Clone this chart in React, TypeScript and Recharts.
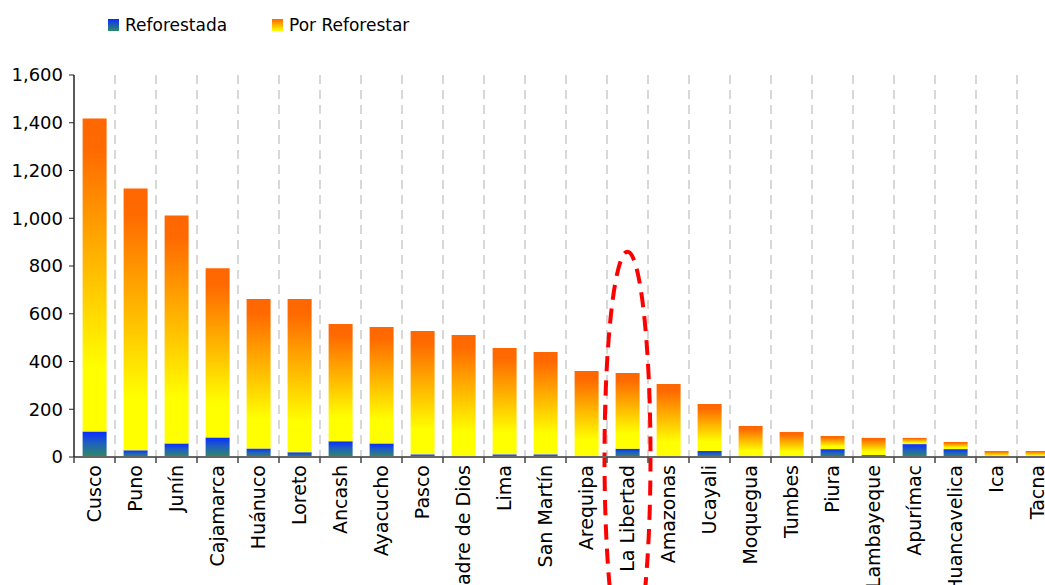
import { BarChart, Bar, XAxis, YAxis, CartesianGrid, Legend, ReferenceArea } from "recharts";

// hectares per region
const regions = [
  "Cusco", "Puno", "Junín", "Cajamarca", "Huánuco", "Loreto", "Ancash", "Ayacucho",
  "Pasco", "Madre de Dios", "Lima", "San Martín", "Arequipa", "La Libertad", "Amazonas",
  "Ucayali", "Moquegua", "Tumbes", "Piura", "Lambayeque", "Apurímac", "Huancavelica", "Ica", "Tacna"
];
const reforestada = [107, 28, 57, 82, 36, 20, 66, 57, 11, 2, 11, 11, 2, 35, 2, 25, 0, 2, 33, 8, 54, 33, 0, 2];
const porReforestar = [1311, 1097, 955, 709, 626, 642, 491, 488, 517, 509, 446, 429, 358, 317, 304, 197, 130, 103, 55, 72, 26, 30, 25, 23];
const yTicks = [0, 200, 400, 600, 800, 1000, 1200, 1400, 1600];
const highlighted = "La Libertad";

const data = regions.map((name, i) => ({
  name,
  reforestada: reforestada[i],
  porReforestar: porReforestar[i]
}));

const FONT = "'DejaVu Sans', Verdana, sans-serif";
const BLUE_GRAD = "linear-gradient(to bottom, #0a2cff, #2e8b62)";
const ORANGE_GRAD = "linear-gradient(to bottom, #ff6600, #ffff00)";

function RegionTick(props: any) {
  const { x, y, payload, width, visibleTicksCount } = props;
  const band = width && visibleTicksCount ? width / visibleTicksCount : 41;
  const bx = x - band / 2;
  return (
    <g>
      <line x1={bx} x2={bx} y1={y} y2={y + 6} stroke="#444" strokeWidth={1.5} />
      <text
        transform={`translate(${x},${y + 8}) rotate(-90)`}
        textAnchor="end"
        dy="0.36em"
        fontSize={19}
        fontFamily={FONT}
        fill="#000"
      >
        {payload.value}
      </text>
    </g>
  );
}

function ValueTick(props: any) {
  const { x, y, payload } = props;
  return (
    <text x={x} y={y} dy="0.36em" textAnchor="end" fontSize={18} fontFamily={FONT} fill="#000">
      {Number(payload.value).toLocaleString("en-US")}
    </text>
  );
}

function LegendBox() {
  const items = [
    { label: "Reforestada", bg: BLUE_GRAD, width: 164 },
    { label: "Por Reforestar", bg: ORANGE_GRAD, width: 160 }
  ];
  return (
    <div style={{ display: "flex", height: 26, paddingLeft: 108, fontFamily: FONT, fontSize: 17, color: "#000" }}>
      {items.map((it) => (
        <div key={it.label} style={{ display: "flex", alignItems: "center", width: it.width }}>
          <span style={{ display: "inline-block", width: 11, height: 12, background: it.bg, marginRight: 6 }} />
          <span>{it.label}</span>
        </div>
      ))}
    </div>
  );
}

function DashedEllipse(props: any) {
  const { x, y, width, height } = props;
  return (
    <ellipse
      cx={x + width / 2}
      cy={y + height}
      rx={23}
      ry={height}
      fill="none"
      stroke="#ff0000"
      strokeWidth={4}
      strokeDasharray="15 9"
    />
  );
}

export default function App() {
  return (
    <div style={{ position: "absolute", left: 0, top: 0, width: 1045, height: 585, overflow: "hidden", background: "#fff" }}>
      <BarChart
        width={1075}
        height={600}
        data={data}
        margin={{ top: 49, right: 17, left: 0, bottom: 0 }}
        barCategoryGap="21%"
      >
        <defs>
          <linearGradient id="gBlue" x1="0" y1="0" x2="0" y2="1">
            <stop offset="0" stopColor="#0a2cff" />
            <stop offset="0.45" stopColor="#1f5fc0" />
            <stop offset="1" stopColor="#2e8b62" />
          </linearGradient>
          <linearGradient id="gOrange" x1="0" y1="0" x2="0" y2="1">
            <stop offset="0" stopColor="#ff6600" />
            <stop offset="0.1" stopColor="#ff6a00" />
            <stop offset="0.8" stopColor="#ffff00" />
            <stop offset="1" stopColor="#ffff00" />
          </linearGradient>
        </defs>
        <Legend verticalAlign="top" align="left" content={<LegendBox />} wrapperStyle={{ top: 12, left: 0 }} />
        <CartesianGrid
          horizontal={false}
          stroke="#cccccc"
          strokeWidth={1.5}
          strokeDasharray="9 6"
          verticalCoordinatesGenerator={({ offset }: any) =>
            regions.map((_, i) => offset.left + ((i + 1) * offset.width) / regions.length)
          }
        />
        <XAxis
          dataKey="name"
          interval={0}
          height={143}
          tickSize={0}
          tickMargin={0}
          tickLine={false}
          axisLine={{ stroke: "#666", strokeWidth: 2 }}
          tick={<RegionTick />}
        />
        <YAxis
          width={74}
          domain={[0, 1600]}
          ticks={yTicks}
          tickSize={5}
          tickMargin={6}
          axisLine={{ stroke: "#222", strokeWidth: 1.5 }}
          tickLine={{ stroke: "#222" }}
          tick={<ValueTick />}
        />
        <Bar dataKey="reforestada" name="Reforestada" stackId="a" fill="url(#gBlue)" isAnimationActive={false} />
        <Bar dataKey="porReforestar" name="Por Reforestar" stackId="a" fill="url(#gOrange)" isAnimationActive={false} />
        <ReferenceArea
          x1={highlighted}
          x2={highlighted}
          y1={0}
          y2={860}
          ifOverflow="visible"
          shape={<DashedEllipse />}
        />
      </BarChart>
    </div>
  );
}
